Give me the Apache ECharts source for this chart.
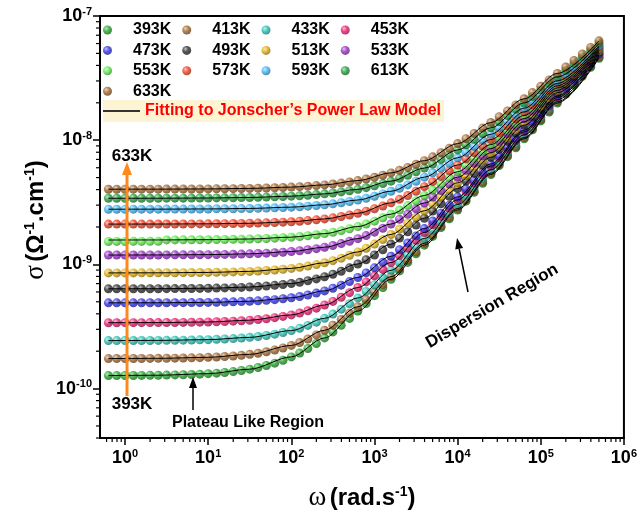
<!DOCTYPE html>
<html><head><meta charset="utf-8">
<script src="https://cdn.jsdelivr.net/npm/echarts@6/dist/echarts.min.js"></script>
<style>html,body{margin:0;padding:0;background:#fff}#c{width:640px;height:515px}</style>
</head><body><div id="c"></div>
<script>
// ---- data (sigma values in units of 1e-10 S/cm) ----
const SIGMA_UNIT = 1e-10;
const TEMPS = ['393K','413K','433K','453K','473K','493K','513K','533K','553K','573K','593K','613K','633K'];
const FIT_NAME = 'Fitting to Jonscher\u2019s Power Law Model';
const OMEGA = [0.631,0.794,1,1.26,1.58,2,2.51,3.16,3.98,5.01,6.31,7.94,
  10,12.6,15.8,20,25.1,31.6,39.8,50.1,63.1,79.4,
  100,126,158,200,251,316,398,501,631,794,
  1000,1260,1580,2000,2510,3160,3980,5010,6310,7940,
  10000,12600,15800,20000,25100,31600,39800,50100,63100,79400,
  100000,126000,158000,200000,251000,316000,398000,501000];
const S393 = [1.272,1.273,1.274,1.275,1.277,1.278,1.281,1.284,1.288,1.293,1.299,1.307,1.318,1.331,1.348,1.370,1.398,1.433,1.477,1.533,1.603,1.690,1.800,1.935,2.102,2.307,2.557,2.861,3.229,3.673,4.205,4.841,5.601,6.506,7.583,8.861,10.37,12.17,14.29,16.80,19.77,23.29,27.41,32.31,38.09,44.91,52.96,62.47,73.71,86.97,102.6,121.1,143.0,168.7,199.1,235.0,277.4,327.4,386.5,456.2];
const S413 = [1.744,1.745,1.746,1.747,1.748,1.749,1.752,1.754,1.758,1.762,1.768,1.775,1.785,1.796,1.812,1.831,1.856,1.887,1.927,1.978,2.042,2.123,2.225,2.351,2.509,2.704,2.945,3.240,3.599,4.036,4.563,5.198,5.960,6.870,7.957,9.250,10.79,12.61,14.78,17.34,20.37,23.95,28.15,33.14,39.05,46.02,54.26,64.00,75.48,89.05,105.0,123.9,146.2,172.5,203.6,240.4,283.8,334.8,395.3,466.5];
const S433 = [2.434,2.435,2.436,2.437,2.438,2.440,2.443,2.445,2.449,2.454,2.460,2.468,2.477,2.490,2.506,2.526,2.552,2.584,2.625,2.678,2.744,2.827,2.931,3.062,3.225,3.427,3.677,3.985,4.361,4.819,5.373,6.043,6.848,7.811,8.961,10.33,11.96,13.89,16.17,18.87,22.06,25.83,30.35,35.61,41.81,49.10,57.71,67.85,79.77,93.83,110.4,129.8,152.7,179.7,211.5,248.8,292.8,344.6,405.7,477.4];
const S453 = [3.391,3.392,3.393,3.394,3.395,3.397,3.400,3.403,3.407,3.412,3.419,3.428,3.438,3.452,3.469,3.490,3.518,3.553,3.597,3.652,3.722,3.810,3.920,4.058,4.230,4.443,4.707,5.033,5.432,5.918,6.508,7.223,8.083,9.115,10.35,11.81,13.55,15.62,18.06,20.94,24.35,28.33,33.13,38.69,45.20,52.89,61.90,72.47,84.90,99.47,116.6,136.7,160.3,187.9,220.3,258.3,302.9,355.4,416.7,488.9];
const S473 = [4.901,4.901,4.902,4.903,4.905,4.907,4.909,4.912,4.916,4.921,4.927,4.934,4.944,4.956,4.972,4.992,5.017,5.048,5.088,5.139,5.203,5.283,5.384,5.512,5.671,5.870,6.118,6.425,6.802,7.271,7.843,8.540,9.385,10.41,11.63,13.11,14.86,16.95,19.43,22.36,25.84,29.92,34.87,40.57,47.28,55.10,64.36,75.19,87.97,102.9,120.4,141.0,165.1,193.5,226.6,265.5,311.1,364.3,427.0,500.6];
const S493 = [6.358,6.359,6.360,6.362,6.364,6.367,6.371,6.376,6.381,6.389,6.398,6.409,6.423,6.441,6.463,6.492,6.527,6.571,6.625,6.694,6.780,6.887,7.019,7.185,7.389,7.643,7.953,8.336,8.804,9.375,10.07,10.90,11.91,13.12,14.56,16.28,18.31,20.71,23.54,26.87,30.78,35.35,40.71,46.95,54.26,62.74,72.68,84.24,97.77,113.5,131.9,153.2,178.1,207.0,240.7,279.9,325.5,378.6,440.4,512.3];
const S513 = [8.537,8.538,8.540,8.542,8.545,8.549,8.553,8.559,8.566,8.574,8.585,8.598,8.615,8.636,8.662,8.694,8.734,8.783,8.845,8.922,9.018,9.136,9.283,9.464,9.688,9.964,10.30,10.72,11.22,11.84,12.59,13.49,14.57,15.87,17.42,19.26,21.45,24.02,27.05,30.61,34.78,39.66,45.35,51.98,59.71,68.70,79.16,91.28,105.4,121.7,140.7,162.7,188.2,217.8,252.1,291.9,338.1,391.6,453.5,525.3];
const S533 = [11.89,11.89,11.90,11.90,11.90,11.91,11.91,11.92,11.93,11.93,11.95,11.96,11.98,12.00,12.03,12.06,12.11,12.16,12.23,12.31,12.41,12.53,12.69,12.87,13.11,13.39,13.75,14.18,14.70,15.34,16.11,17.05,18.17,19.52,21.13,23.05,25.33,28.02,31.20,34.91,39.28,44.37,50.32,57.24,65.28,74.65,85.49,98.06,112.6,129.6,149.2,171.7,197.8,228.0,262.9,303.2,349.8,403.6,465.9,537.7];
const S553 = [15.30,15.32,15.30,15.33,15.32,15.35,15.34,15.74,15.75,15.76,15.77,15.79,15.81,15.83,15.86,15.90,15.95,16.01,16.08,16.17,16.27,16.41,16.57,16.77,17.02,17.32,17.69,18.14,18.69,19.35,20.16,21.13,22.30,23.71,25.39,27.39,29.75,32.56,35.86,39.74,44.28,49.58,55.75,62.95,71.28,80.96,92.14,105.1,120.0,137.3,158.1,181.2,207.8,238.5,273.8,314.6,361.6,415.6,477.8,549.5];
const S573 = [21.10,21.10,21.11,21.11,21.11,21.12,21.13,21.13,21.14,21.16,21.17,21.19,21.21,21.24,21.28,21.32,21.37,21.43,21.51,21.61,21.72,21.87,22.04,22.26,22.52,22.84,23.23,23.70,24.28,24.97,25.82,26.84,28.06,29.53,31.29,33.38,35.86,38.80,42.26,46.33,51.09,56.66,63.14,70.67,79.41,89.53,101.2,114.7,130.3,148.2,168.9,191.7,218.9,250.1,286.0,327.1,374.3,428.7,491.0,562.5];
const S593 = [27.81,27.82,27.82,27.83,27.83,27.84,27.85,27.86,27.87,27.88,27.90,27.93,27.95,27.99,28.03,28.07,28.14,28.21,28.30,28.41,28.54,28.70,28.90,29.14,29.43,29.78,30.21,30.72,31.35,32.10,33.01,34.10,35.40,36.96,38.82,41.03,43.65,46.74,50.37,54.64,59.63,65.45,72.21,80.06,89.12,99.62,111.7,125.6,141.6,159.9,181.0,205.2,232.8,264.1,300.3,341.7,388.9,443.1,504.8,575.5];
const S613 = [34.06,34.06,34.07,34.08,34.08,34.09,34.10,34.12,34.13,34.15,34.18,34.21,34.24,34.29,34.34,34.40,34.48,34.57,34.68,34.82,34.98,35.18,35.42,35.70,36.05,36.47,36.97,37.58,38.31,39.18,40.22,41.46,42.94,44.71,46.80,49.28,52.19,55.62,59.63,64.31,69.78,76.12,83.47,91.97,101.7,113.0,125.9,140.8,157.7,177.2,199.4,224.8,253.7,285.7,322.8,365.3,413.6,468.7,531.4,602.9];
const S633 = [40.30,40.30,40.31,40.32,40.33,40.34,40.35,40.37,40.39,40.42,40.45,40.48,40.52,40.58,40.64,40.72,40.81,40.92,41.05,41.21,41.40,41.63,41.90,42.23,42.63,43.10,43.67,44.35,45.17,46.14,47.30,48.67,50.31,52.24,54.52,57.22,60.37,64.07,68.39,73.42,79.26,86.03,93.86,102.9,113.2,125.1,138.7,154.3,172.1,192.4,215.5,241.8,271.7,305.6,344.8,388.3,437.8,494.2,558.2,630.6];
// fitted curves (Jonscher power law)
const FIT_OMEGA = [0.631,2.51,10,31.6,100,251,631,1580,3980,10000,25100,63100,158000,501000];
const F393 = [1.272,1.281,1.318,1.433,1.800,2.557,4.205,7.583,14.29,27.41,52.96,102.6,199.1,456.2];
const F413 = [1.744,1.752,1.785,1.887,2.225,2.945,4.563,7.957,14.78,28.15,54.26,105.0,203.6,466.5];
const F433 = [2.434,2.443,2.477,2.584,2.931,3.677,5.373,8.961,16.17,30.35,57.71,110.4,211.5,477.4];
const F453 = [3.391,3.400,3.438,3.553,3.920,4.707,6.508,10.35,18.06,33.13,61.90,116.6,220.3,488.9];
const F473 = [4.901,4.909,4.944,5.048,5.384,6.118,7.843,11.63,19.43,34.87,64.36,120.4,226.6,500.6];
const F493 = [6.358,6.371,6.423,6.571,7.019,7.953,10.07,14.56,23.54,40.71,72.68,131.9,240.7,512.3];
const F513 = [8.537,8.553,8.615,8.783,9.283,10.30,12.59,17.42,27.05,45.35,79.16,140.7,252.1,525.3];
const F533 = [11.89,11.91,11.98,12.16,12.69,13.75,16.11,21.13,31.20,50.32,85.49,149.2,262.9,537.7];
const F553 = [15.71,15.73,15.81,16.01,16.57,17.69,20.16,25.39,35.86,55.75,92.14,158.1,273.8,549.5];
const F573 = [21.10,21.13,21.21,21.43,22.04,23.23,25.82,31.29,42.26,63.14,101.2,168.9,286.0,562.5];
const F593 = [27.81,27.85,27.95,28.21,28.90,30.21,33.01,38.82,50.37,72.21,111.7,181.0,300.3,575.5];
const F613 = [34.06,34.10,34.24,34.57,35.42,36.97,40.22,46.80,59.63,83.47,125.9,199.4,322.8,602.9];
const F633 = [40.30,40.35,40.52,40.92,41.90,43.67,47.30,54.52,68.39,93.86,138.7,215.5,344.8,630.6];

const DATA = [S393,S413,S433,S453,S473,S493,S513,S533,S553,S573,S593,S613,S633];
const FITS = [F393,F413,F433,F453,F473,F493,F513,F533,F553,F573,F593,F613,F633];
const COLORS = ['#22a62a','#a5652b','#26c4b6','#f0186e','#3030ee','#2b2b2b','#e2b00c','#9a2ccb','#5cee48','#f53c1e','#3cb6f7','#20a038','#a5652b'];

function shade(hex, f){
  const n = parseInt(hex.slice(1),16); let r=(n>>16)&255,g=(n>>8)&255,b=n&255;
  const m = c => Math.round(f>0 ? c+(255-c)*f : c*(1+f));
  return 'rgb('+m(r)+','+m(g)+','+m(b)+')';
}
function ball(c){
  return new echarts.graphic.RadialGradient(0.36,0.34,0.68,[
    {offset:0,color:shade(c,0.65)},{offset:0.45,color:c},{offset:1,color:shade(c,-0.4)}]);
}
const SANS = 'Liberation Sans, Arial, sans-serif';
function supLabel(v){
  const e = Math.log10(v), r = Math.round(e);
  if (Math.abs(e-r) > 1e-6) return '';
  return '{b|10}{s|' + r + '}';
}
const labelRich = {
  b:{fontSize:18,fontWeight:'bold',fontFamily:SANS,color:'#000'},
  s:{fontSize:11,fontWeight:'bold',fontFamily:SANS,color:'#000',verticalAlign:'bottom',padding:[0,0,9,0]}
};

const series = [];
DATA.forEach((arr,i)=>{
  series.push({
    type:'scatter', name:TEMPS[i], symbol:'circle', symbolSize:9,
    itemStyle:{color:ball(COLORS[i])}, z:2,
    data: OMEGA.map((w,j)=>[w, arr[j]*SIGMA_UNIT])
  });
});
FITS.forEach((arr)=>{
  series.push({
    type:'line', name:FIT_NAME, symbol:'none', showSymbol:false, smooth:0.3, smoothMonotone:'x',
    lineStyle:{color:'#000',width:1}, itemStyle:{color:'#333'}, z:3, silent:true,
    data: FIT_OMEGA.map((w,j)=>[w, arr[j]*SIGMA_UNIT])
  });
});

const X_MIN = 0.5, X_MAX = 1e6, Y_MIN = 4e-11, Y_MAX = 1e-7;
const legendText = {fontSize:16,fontWeight:'bold',fontFamily:SANS,color:'#000',padding:[0,0,0,16]};
const legendRows = [0,1,2,3].map(r=>({
  data:TEMPS.slice(r*4,r*4+4), left:103, top:22+r*20.4, orient:'horizontal', padding:0,
  itemWidth:9, itemHeight:9, itemGap:11, icon:'circle', textStyle:legendText
}));
legendRows.push({
  data:[FIT_NAME], left:103, top:100, padding:[3,3,3,0], backgroundColor:'#fcf4d2',
  itemWidth:37, itemHeight:2, icon:'rect', itemStyle:{color:'#333'},
  textStyle:{fontSize:16,fontWeight:'bold',fontFamily:SANS,color:'#ff0000'}
});
const option = {
  animation:false,
  backgroundColor:'#fff',
  grid:{left:100,right:16,top:16,bottom:77,show:true,borderColor:'#000',borderWidth:2,backgroundColor:'transparent'},
  xAxis:{type:'log',logBase:10,min:X_MIN,max:X_MAX,
    axisLine:{lineStyle:{color:'#000',width:2}},
    axisTick:{length:7,lineStyle:{color:'#000',width:1.5}},
    splitLine:{show:false},
    axisLabel:{formatter:supLabel,rich:labelRich,margin:10,showMinLabel:false}},
  yAxis:{type:'log',logBase:10,min:Y_MIN,max:Y_MAX,
    axisLine:{show:true,lineStyle:{color:'#000',width:2}},
    axisTick:{show:true,length:7,lineStyle:{color:'#000',width:1.5}},
    splitLine:{show:false},
    axisLabel:{formatter:supLabel,rich:labelRich,margin:8,showMinLabel:false}},
  legend:legendRows,
  series: series
};

const chart = echarts.init(document.getElementById('c'));
chart.setOption(option);

// decorations: minor ticks, annotations, axis titles
const G = [];
const yb = chart.convertToPixel({yAxisIndex:0}, Y_MIN);
const xl = chart.convertToPixel({xAxisIndex:0}, X_MIN);
for (let d=-1; d<6; d++) for (let k=2;k<=9;k++){
  const v = k*Math.pow(10,d); if (v<=X_MIN || v>=X_MAX) continue;
  const px = chart.convertToPixel({xAxisIndex:0}, v);
  G.push({type:'line',shape:{x1:px,y1:yb,x2:px,y2:yb+4},style:{stroke:'#000',lineWidth:1.2},silent:true});
}
for (let d=-11; d<-7; d++) for (let k=2;k<=9;k++){
  const v = k*Math.pow(10,d); if (v<Y_MIN || v>=Y_MAX) continue;
  const py = chart.convertToPixel({yAxisIndex:0}, v);
  G.push({type:'line',shape:{x1:xl,y1:py,x2:xl-4,y2:py},style:{stroke:'#000',lineWidth:1.2},silent:true});
}
function arrow(x1,y1,x2,y2,color,w,hl,hw){
  const dx=x2-x1, dy=y2-y1, L=Math.hypot(dx,dy), ux=dx/L, uy=dy/L;
  const bx=x2-ux*hl, by=y2-uy*hl, px=-uy*hw, py=ux*hw;
  G.push({type:'line',shape:{x1:x1,y1:y1,x2:bx,y2:by},style:{stroke:color,lineWidth:w},silent:true,z:10});
  G.push({type:'polygon',shape:{points:[[x2,y2],[bx+px,by+py],[bx-px,by-py]]},style:{fill:color},silent:true,z:10});
}
arrow(127,396,127,162,'#ff8a1c',3,13,5);
arrow(193,410,193,377,'#000',1.5,11,4);
arrow(468,292,457,238,'#000',1.5,11,4);
function txt(x,y,t,size,rot){
  G.push({type:'text',x:x,y:y,rotation:rot||0,z:10,silent:true,
    style:{text:t,fontSize:size,fontWeight:'bold',fontFamily:SANS,fill:'#000',align:'center',verticalAlign:'middle'}});
}
txt(132,156,'633K',17);
txt(132,404,'393K',17);
txt(248,423,'Plateau Like Region',16);
txt(492,306,'Dispersion Region',17,30.5*Math.PI/180);
// axis titles
const titleRich = {
  g:{fontSize:27,fontFamily:'Liberation Serif, Times New Roman, serif',fill:'#000'},
  b:{fontSize:24,fontWeight:'bold',fontFamily:SANS,fill:'#000'},
  s:{fontSize:14,fontWeight:'bold',fontFamily:SANS,fill:'#000',verticalAlign:'bottom',padding:[0,0,12,0]}
};
G.push({type:'text',x:36,y:220,rotation:Math.PI/2,silent:true,
  style:{text:'{g|\u03c3} {b|(\u03a9}{s|-1}{b|.cm}{s|-1}{b|)}',rich:titleRich,align:'center',verticalAlign:'middle'}});
G.push({type:'text',x:362,y:498,silent:true,
  style:{text:'{g|\u03c9} {b|(rad.s}{s|-1}{b|)}',rich:titleRich,align:'center',verticalAlign:'middle'}});
chart.setOption({graphic:G});
</script></body></html>
